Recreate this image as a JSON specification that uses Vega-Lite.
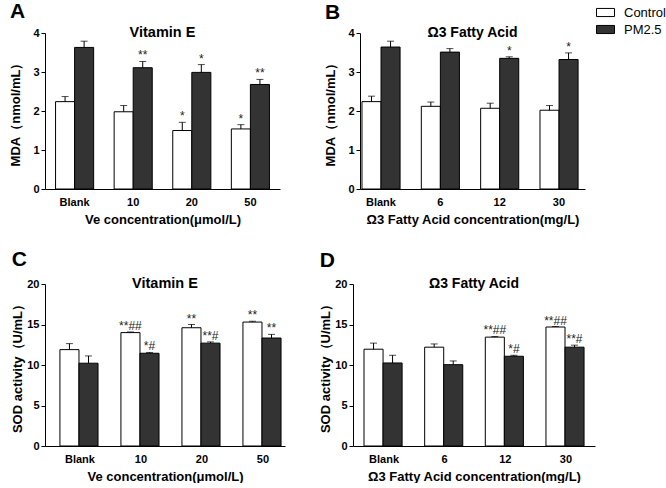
{
  "$schema": "https://vega.github.io/schema/vega-lite/v6.json",
  "padding": {"left": 9, "top": 0, "right": 0, "bottom": 0},
  "datasets": {
    "A": [
      {"dose": "Blank", "group": "Control", "value": 2.24, "hi": 2.37, "sig": ""},
      {"dose": "Blank", "group": "PM2.5", "value": 3.63, "hi": 3.79, "sig": ""},
      {"dose": "10", "group": "Control", "value": 1.98, "hi": 2.14, "sig": ""},
      {"dose": "10", "group": "PM2.5", "value": 3.11, "hi": 3.27, "sig": "**"},
      {"dose": "20", "group": "Control", "value": 1.5, "hi": 1.71, "sig": "*"},
      {"dose": "20", "group": "PM2.5", "value": 2.99, "hi": 3.19, "sig": "*"},
      {"dose": "50", "group": "Control", "value": 1.54, "hi": 1.65, "sig": "*"},
      {"dose": "50", "group": "PM2.5", "value": 2.68, "hi": 2.81, "sig": "**"}
    ],
    "B": [
      {"dose": "Blank", "group": "Control", "value": 2.24, "hi": 2.38, "sig": ""},
      {"dose": "Blank", "group": "PM2.5", "value": 3.64, "hi": 3.79, "sig": ""},
      {"dose": "6", "group": "Control", "value": 2.12, "hi": 2.23, "sig": ""},
      {"dose": "6", "group": "PM2.5", "value": 3.51, "hi": 3.6, "sig": ""},
      {"dose": "12", "group": "Control", "value": 2.07, "hi": 2.2, "sig": ""},
      {"dose": "12", "group": "PM2.5", "value": 3.35, "hi": 3.39, "sig": "*"},
      {"dose": "30", "group": "Control", "value": 2.02, "hi": 2.14, "sig": ""},
      {"dose": "30", "group": "PM2.5", "value": 3.32, "hi": 3.49, "sig": "*"}
    ],
    "C": [
      {"dose": "Blank", "group": "Control", "value": 11.9, "hi": 12.64, "sig": ""},
      {"dose": "Blank", "group": "PM2.5", "value": 10.22, "hi": 11.12, "sig": ""},
      {"dose": "10", "group": "Control", "value": 14.0, "hi": 14.08, "sig": "**##"},
      {"dose": "10", "group": "PM2.5", "value": 11.45, "hi": 11.55, "sig": "*#"},
      {"dose": "20", "group": "Control", "value": 14.6, "hi": 15.0, "sig": "**"},
      {"dose": "20", "group": "PM2.5", "value": 12.7, "hi": 12.85, "sig": "**#"},
      {"dose": "50", "group": "Control", "value": 15.3, "hi": 15.4, "sig": "**"},
      {"dose": "50", "group": "PM2.5", "value": 13.33, "hi": 13.78, "sig": "**"}
    ],
    "D": [
      {"dose": "Blank", "group": "Control", "value": 11.95, "hi": 12.7, "sig": ""},
      {"dose": "Blank", "group": "PM2.5", "value": 10.25, "hi": 11.2, "sig": ""},
      {"dose": "6", "group": "Control", "value": 12.2, "hi": 12.6, "sig": ""},
      {"dose": "6", "group": "PM2.5", "value": 10.04, "hi": 10.5, "sig": ""},
      {"dose": "12", "group": "Control", "value": 13.44, "hi": 13.52, "sig": "**##"},
      {"dose": "12", "group": "PM2.5", "value": 11.08, "hi": 11.2, "sig": "*#"},
      {"dose": "30", "group": "Control", "value": 14.69, "hi": 14.75, "sig": "**##"},
      {"dose": "30", "group": "PM2.5", "value": 12.2, "hi": 12.45, "sig": "**#"}
    ]
  },
  "vconcat": [
    {
      "hconcat": [
        {
          "title": {"text": "A", "fontSize": 21, "anchor": "start", "frame": "bounds", "offset": 3},
          "vconcat": [
            {
              "width": 235, "height": 156,
              "data": {"name": "A"},
              "title": {"text": "Vitamin E", "fontSize": 14.5, "offset": -13},
              "encoding": {
                "x": {"field": "dose", "type": "nominal", "sort": null, "title": "Ve concentration(μmol/L)",
                      "scale": {"paddingInner": 0.35, "paddingOuter": 0.18, "align": 0.5}},
                "xOffset": {"field": "group", "type": "nominal", "sort": ["Control", "PM2.5"]}
              },
              "layer": [
                {"mark": {"type": "bar", "stroke": "black", "strokeWidth": 1},
                 "encoding": {
                   "y": {"field": "value", "type": "quantitative", "scale": {"domain": [0, 4]},
                         "axis": {"values": [0, 1, 2, 3, 4], "titlePadding": 10}, "title": "MDA（nmol/mL）"},
                   "fill": {"field": "group", "type": "nominal", "scale": {"domain": ["Control", "PM2.5"], "range": ["#ffffff", "#333333"]}}
                 }},
                {"mark": {"type": "rule", "color": "black", "strokeWidth": 1},
                 "encoding": {"y": {"field": "value", "type": "quantitative", "axis": {"values": [0, 1, 2, 3, 4], "titlePadding": 10}, "title": "MDA（nmol/mL）"}, "y2": {"field": "hi"}}},
                {"mark": {"type": "tick", "color": "black", "size": 7, "thickness": 1},
                 "encoding": {"y": {"field": "hi", "type": "quantitative", "axis": {"values": [0, 1, 2, 3, 4], "titlePadding": 10}, "title": "MDA（nmol/mL）"}}},
                {"mark": {"type": "text", "baseline": "alphabetic", "dy": -2, "fontSize": 12, "color": "#222222"},
                 "encoding": {"y": {"field": "hi", "type": "quantitative", "axis": {"values": [0, 1, 2, 3, 4], "titlePadding": 10}, "title": "MDA（nmol/mL）"}, "text": {"field": "sig"}}}
              ]
            }
          ]
        },
        {
          "title": {"text": "B", "fontSize": 21, "anchor": "start", "frame": "bounds", "offset": 3},
          "vconcat": [
            {
              "width": 225, "height": 156,
              "data": {"name": "B"},
              "title": {"text": "Ω3 Fatty Acid", "fontSize": 14, "offset": -13},
              "encoding": {
                "x": {"field": "dose", "type": "nominal", "sort": null, "title": "Ω3 Fatty Acid concentration(mg/L)",
                      "scale": {"paddingInner": 0.36, "paddingOuter": 0.076, "align": 0.22}},
                "xOffset": {"field": "group", "type": "nominal", "sort": ["Control", "PM2.5"]}
              },
              "layer": [
                {"mark": {"type": "bar", "stroke": "black", "strokeWidth": 1},
                 "encoding": {
                   "y": {"field": "value", "type": "quantitative", "scale": {"domain": [0, 4]},
                         "axis": {"values": [0, 1, 2, 3, 4], "titlePadding": 10}, "title": "MDA（nmol/mL）"},
                   "fill": {"field": "group", "type": "nominal", "scale": {"domain": ["Control", "PM2.5"], "range": ["#ffffff", "#333333"]}}
                 }},
                {"mark": {"type": "rule", "color": "black", "strokeWidth": 1},
                 "encoding": {"y": {"field": "value", "type": "quantitative", "axis": {"values": [0, 1, 2, 3, 4], "titlePadding": 10}, "title": "MDA（nmol/mL）"}, "y2": {"field": "hi"}}},
                {"mark": {"type": "tick", "color": "black", "size": 7, "thickness": 1},
                 "encoding": {"y": {"field": "hi", "type": "quantitative", "axis": {"values": [0, 1, 2, 3, 4], "titlePadding": 10}, "title": "MDA（nmol/mL）"}}},
                {"mark": {"type": "text", "baseline": "alphabetic", "dy": -2, "fontSize": 12, "color": "#222222"},
                 "encoding": {"y": {"field": "hi", "type": "quantitative", "axis": {"values": [0, 1, 2, 3, 4], "titlePadding": 10}, "title": "MDA（nmol/mL）"}, "text": {"field": "sig"}}}
              ]
            }
          ]
        }
      ],
      "spacing": 44
    },
    {
      "hconcat": [
        {
          "title": {"text": "C", "fontSize": 21, "anchor": "start", "frame": "bounds", "offset": 6},
          "vconcat": [
            {
              "width": 240, "height": 162,
              "data": {"name": "C"},
              "title": {"text": "Vitamin E", "fontSize": 14.5, "offset": -13},
              "encoding": {
                "x": {"field": "dose", "type": "nominal", "sort": null, "title": "Ve concentration(μmol/L)",
                      "scale": {"paddingInner": 0.344, "paddingOuter": 0.139, "align": 0.88}},
                "xOffset": {"field": "group", "type": "nominal", "sort": ["Control", "PM2.5"]}
              },
              "layer": [
                {"mark": {"type": "bar", "stroke": "black", "strokeWidth": 1},
                 "encoding": {
                   "y": {"field": "value", "type": "quantitative", "scale": {"domain": [0, 20]},
                         "axis": {"values": [0, 5, 10, 15, 20], "titlePadding": 2}, "title": "SOD activity（U/mL）"},
                   "fill": {"field": "group", "type": "nominal", "scale": {"domain": ["Control", "PM2.5"], "range": ["#ffffff", "#333333"]}}
                 }},
                {"mark": {"type": "rule", "color": "black", "strokeWidth": 1},
                 "encoding": {"y": {"field": "value", "type": "quantitative", "axis": {"values": [0, 5, 10, 15, 20], "titlePadding": 2}, "title": "SOD activity（U/mL）"}, "y2": {"field": "hi"}}},
                {"mark": {"type": "tick", "color": "black", "size": 7, "thickness": 1},
                 "encoding": {"y": {"field": "hi", "type": "quantitative", "axis": {"values": [0, 5, 10, 15, 20], "titlePadding": 2}, "title": "SOD activity（U/mL）"}}},
                {"mark": {"type": "text", "baseline": "alphabetic", "dy": -2, "fontSize": 12, "color": "#222222"},
                 "encoding": {"y": {"field": "hi", "type": "quantitative", "axis": {"values": [0, 5, 10, 15, 20], "titlePadding": 2}, "title": "SOD activity（U/mL）"}, "text": {"field": "sig"}}}
              ]
            }
          ]
        },
        {
          "title": {"text": "D", "fontSize": 21, "anchor": "start", "frame": "bounds", "offset": 6},
          "vconcat": [
            {
              "width": 242, "height": 162,
              "data": {"name": "D"},
              "title": {"text": "Ω3 Fatty Acid", "fontSize": 14, "offset": -13},
              "encoding": {
                "x": {"field": "dose", "type": "nominal", "sort": null, "title": "Ω3 Fatty Acid concentration(mg/L)",
                      "scale": {"paddingInner": 0.34, "paddingOuter": 0.165, "align": 0.55}},
                "xOffset": {"field": "group", "type": "nominal", "sort": ["Control", "PM2.5"]}
              },
              "layer": [
                {"mark": {"type": "bar", "stroke": "black", "strokeWidth": 1},
                 "encoding": {
                   "y": {"field": "value", "type": "quantitative", "scale": {"domain": [0, 20]},
                         "axis": {"values": [0, 5, 10, 15, 20], "titlePadding": 2}, "title": "SOD activity（U/mL）"},
                   "fill": {"field": "group", "type": "nominal", "scale": {"domain": ["Control", "PM2.5"], "range": ["#ffffff", "#333333"]}}
                 }},
                {"mark": {"type": "rule", "color": "black", "strokeWidth": 1},
                 "encoding": {"y": {"field": "value", "type": "quantitative", "axis": {"values": [0, 5, 10, 15, 20], "titlePadding": 2}, "title": "SOD activity（U/mL）"}, "y2": {"field": "hi"}}},
                {"mark": {"type": "tick", "color": "black", "size": 7, "thickness": 1},
                 "encoding": {"y": {"field": "hi", "type": "quantitative", "axis": {"values": [0, 5, 10, 15, 20], "titlePadding": 2}, "title": "SOD activity（U/mL）"}}},
                {"mark": {"type": "text", "baseline": "alphabetic", "dy": -2, "fontSize": 12, "color": "#222222"},
                 "encoding": {"y": {"field": "hi", "type": "quantitative", "axis": {"values": [0, 5, 10, 15, 20], "titlePadding": 2}, "title": "SOD activity（U/mL）"}, "text": {"field": "sig"}}}
              ]
            }
          ]
        }
      ],
      "spacing": 34
    }
  ],
  "spacing": 22,
  "config": {
    "font": "Liberation Sans",
    "view": {"stroke": null},
    "axis": {"domainColor": "black", "tickColor": "black", "labelColor": "black", "titleColor": "black",
             "labelFont": "Liberation Sans", "titleFont": "Liberation Sans", "labelFontWeight": "bold",
             "titleFontWeight": "bold", "labelFontSize": 11, "titleFontSize": 13, "grid": false},
    "axisX": {"ticks": false, "labelAngle": 0, "labelPadding": 7, "titlePadding": 6},
    "axisY": {"tickSize": 4, "labelPadding": 2, "minExtent": 0, "labelOverlap": false},
    "title": {"font": "Liberation Sans", "fontWeight": "bold", "color": "black"},
    "legend": {"orient": "none", "legendX": 551, "legendY": -30, "title": null, "symbolType": "M-1,-0.45H1V0.45H-1Z",
               "symbolSize": 324, "symbolStrokeColor": "black", "symbolStrokeWidth": 1,
               "labelFont": "Liberation Sans", "labelFontSize": 13, "labelColor": "black",
               "rowPadding": 0, "labelOffset": 9}
  }
}
